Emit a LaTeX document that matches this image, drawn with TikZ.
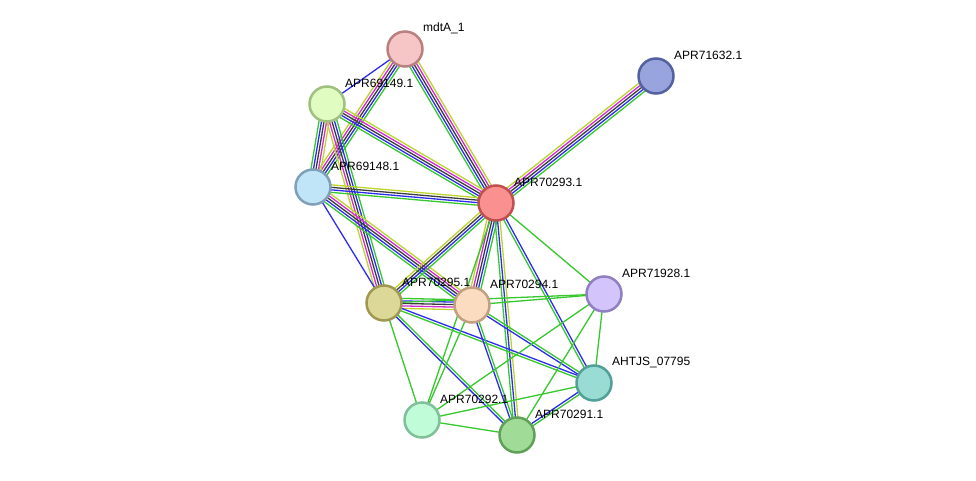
\documentclass[tikz,border=0pt]{standalone}
\usepackage{fontspec}
\setmainfont{Liberation Sans}
\usetikzlibrary{calc,backgrounds}
\pgfdeclarelayer{edges}
\pgfsetlayers{background,edges,main}
\definecolor{eg}{RGB}{55,200,45}
\definecolor{eb}{RGB}{45,45,240}
\definecolor{ek}{RGB}{60,60,60}
\definecolor{em}{RGB}{210,45,210}
\definecolor{ey}{RGB}{190,212,45}
\newcommand{\bnd}[4]{%
  \foreach \c [count=\i] in {#4} {
    \pgfmathsetmacro\off{(\i-1-(#3-1)/2)*2.5}
    \draw[edge,\c] ($(#1)!\off pt!90:(#2)$) -- ($(#2)!\off pt!-90:(#1)$);
  }}
\tikzset{
  prot/.style={circle, minimum size=35pt, inner sep=0pt, line width=2.5pt},
  edge/.style={line width=1.3pt},
  lbl/.style={anchor=west, inner sep=0pt, font=\fontsize{12pt}{14pt}\selectfont, text=black}
}
\begin{document}
\begin{tikzpicture}[x=1pt,y=-1pt]
\begin{pgfonlayer}{background}
\fill[white] (0,0) rectangle (976,481);
\end{pgfonlayer}
\useasboundingbox (0,0) rectangle (976,481);
\node[prot, fill={rgb,255:red,246;green,198;blue,198}, draw={rgb,255:red,185;green,128;blue,128}] (mdt) at (405,49) {};
\node[prot, fill={rgb,255:red,152;green,164;blue,222}, draw={rgb,255:red,85;green,96;blue,160}] (n632) at (656,76) {};
\node[prot, fill={rgb,255:red,224;green,252;blue,192}, draw={rgb,255:red,160;green,192;blue,128}] (n149) at (327,104) {};
\node[prot, fill={rgb,255:red,192;green,228;blue,248}, draw={rgb,255:red,128;green,160;blue,184}] (n148) at (313,187) {};
\node[prot, fill={rgb,255:red,250;green,144;blue,144}, draw={rgb,255:red,192;green,80;blue,80}] (n293) at (496,203) {};
\node[prot, fill={rgb,255:red,212;green,196;blue,252}, draw={rgb,255:red,144;green,128;blue,192}] (n928) at (604,294) {};
\node[prot, fill={rgb,255:red,220;green,216;blue,152}, draw={rgb,255:red,160;green,152;blue,80}] (n295) at (384,303) {};
\node[prot, fill={rgb,255:red,252;green,220;blue,192}, draw={rgb,255:red,192;green,160;blue,128}] (n294) at (472,305) {};
\node[prot, fill={rgb,255:red,152;green,220;blue,212}, draw={rgb,255:red,80;green,160;blue,152}] (ahtjs) at (594,383) {};
\node[prot, fill={rgb,255:red,192;green,252;blue,216}, draw={rgb,255:red,128;green,192;blue,152}] (n292) at (422,420) {};
\node[prot, fill={rgb,255:red,160;green,220;blue,152}, draw={rgb,255:red,96;green,160;blue,88}] (n291) at (517,435) {};
\begin{pgfonlayer}{edges}
\bnd{mdt}{n149}{1}{eb}
\bnd{mdt}{n148}{5}{ey,em,ek,eb,eg}
\bnd{mdt}{n293}{5}{eg,eb,ek,em,ey}
\bnd{n149}{n148}{5}{eg,eb,ek,em,ey}
\bnd{n149}{n293}{5}{eg,eb,ek,em,ey}
\bnd{n149}{n295}{5}{ey,em,ek,eb,eg}
\bnd{n148}{n293}{4}{eg,eb,ek,ey}
\bnd{n148}{n294}{5}{eg,eb,ek,em,ey}
\bnd{n148}{n295}{1}{eb}
\bnd{n293}{n632}{5}{eg,eb,ek,em,ey}
\bnd{n293}{n295}{4}{ey,ek,eb,eg}
\bnd{n293}{n294}{5}{ey,em,ek,eb,eg}
\bnd{n293}{n928}{1}{eg}
\bnd{n293}{ahtjs}{2}{eg,eb}
\bnd{n293}{n291}{3}{eg,eb,ey}
\bnd{n293}{n292}{1}{eg}
\bnd{n295}{n294}{5}{ey,em,ek,eb,eg}
\bnd{n295}{n928}{1}{eg}
\bnd{n295}{ahtjs}{2}{eg,eb}
\bnd{n295}{n291}{2}{eb,eg}
\bnd{n295}{n292}{1}{eg}
\bnd{n294}{n928}{1}{eg}
\bnd{n294}{ahtjs}{2}{eb,eg}
\bnd{n294}{n291}{2}{eb,eg}
\bnd{n294}{n292}{1}{eg}
\bnd{n928}{ahtjs}{1}{eg}
\bnd{n928}{n292}{1}{eg}
\bnd{n928}{n291}{1}{eg}
\bnd{ahtjs}{n291}{2}{eb,eg}
\bnd{ahtjs}{n292}{1}{eg}
\bnd{n292}{n291}{1}{eg}
\end{pgfonlayer}
\node[lbl] (tmdt) at ([shift={(18,-21)}]mdt.center) {mdtA\_1};
\node[lbl] (t632) at ([shift={(18,-21)}]n632.center) {APR71632.1};
\node[lbl] (t149) at ([shift={(18,-21)}]n149.center) {APR69149.1};
\node[lbl] (t148) at ([shift={(18,-21)}]n148.center) {APR69148.1};
\node[lbl] (t293) at ([shift={(18,-21)}]n293.center) {APR70293.1};
\node[lbl] (t928) at ([shift={(18,-21)}]n928.center) {APR71928.1};
\node[lbl] (t295) at ([shift={(18,-21)}]n295.center) {APR70295.1};
\node[lbl] (t294) at ([shift={(18,-21)}]n294.center) {APR70294.1};
\node[lbl] (tahtjs) at ([shift={(18,-21)}]ahtjs.center) {AHTJS\_07795};
\node[lbl] (t292) at ([shift={(18,-21)}]n292.center) {APR70292.1};
\node[lbl] (t291) at ([shift={(18,-21)}]n291.center) {APR70291.1};
\end{tikzpicture}
\end{document}
